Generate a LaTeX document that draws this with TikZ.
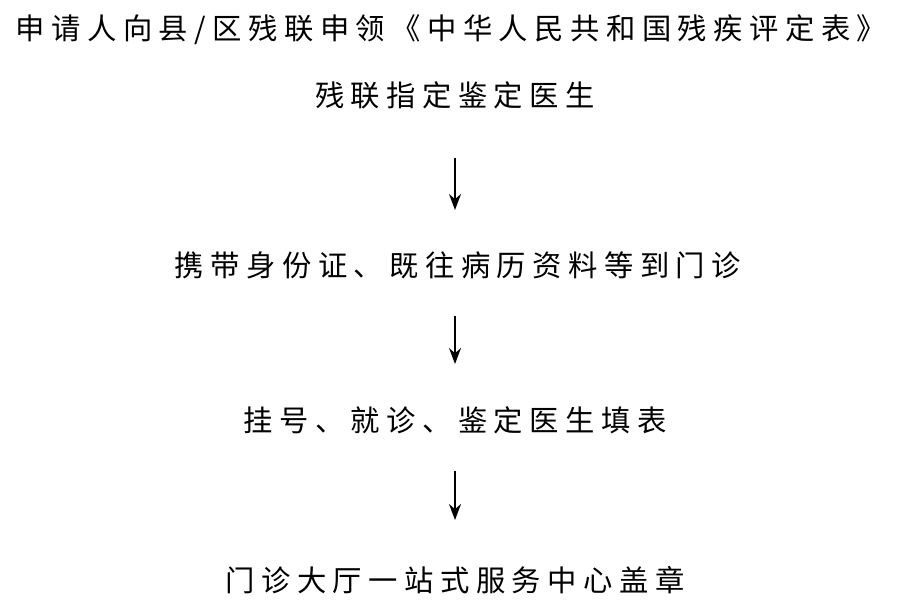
\documentclass[tikz,border=0pt]{standalone}
\usepackage{fontspec}
\setmainfont{Noto Sans CJK SC}[LetterSpace=22,BoldFont={Noto Sans CJK SC}]
\usetikzlibrary{arrows.meta}
\tikzset{
  steptext/.style={inner sep=0pt,font=\fontsize{22pt}{26pt}\selectfont},
  flowarrow/.style={-{Stealth[length=12pt,width=9pt]},line width=1.2pt}
}
\begin{document}
\begin{tikzpicture}[x=0.75pt,y=0.75pt,yscale=-1,xscale=1]
\useasboundingbox (0,0) rectangle (899,609);
% Text Node
\node (apply) at (451,30) [steptext] {申请人向县/区残联申领《中华人民共和国残疾评定表》};
% Text Node
\node (doctor) at (455,95) [steptext] {残联指定鉴定医生};
% Text Node
\node (clinic) at (458,265) [steptext] {携带身份证、既往病历资料等到门诊};
% Text Node
\node (register) at (455,420) [steptext] {挂号、就诊、鉴定医生填表};
% Text Node
\node (stamp) at (455,580) [steptext] {门诊大厅一站式服务中心盖章};
% Arrows
\coordinate (a1) at (455,158);
\coordinate (b1) at (455,210);
\draw [flowarrow] (a1) -- (b1);
\coordinate (a2) at (455,316);
\coordinate (b2) at (455,364);
\draw [flowarrow] (a2) -- (b2);
\coordinate (a3) at (455,471);
\coordinate (b3) at (455,520);
\draw [flowarrow] (a3) -- (b3);
\end{tikzpicture}
\end{document}
